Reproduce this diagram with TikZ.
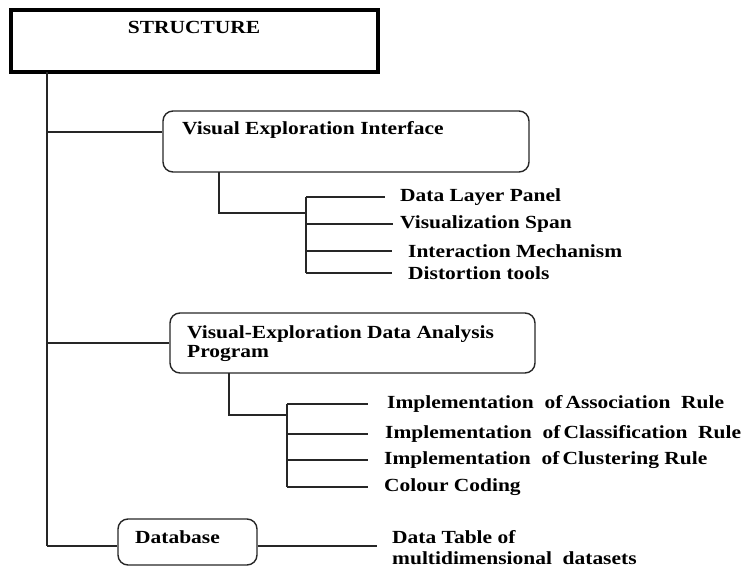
\documentclass[tikz,border=0pt]{standalone}
\usepackage{fontspec}
\setmainfont{Liberation Serif}
\newfontfamily\lbl{Liberation Serif}[FakeStretch=1.16]
\usetikzlibrary{calc}
\begin{document}
\begin{tikzpicture}[x=1pt,y=-1pt,
  txt/.style={anchor=west,inner sep=0pt,font=\lbl\bfseries\fontsize{18.5}{21.5}\selectfont,text=black},
  rbox/.style={draw=black!85,line width=1.4pt,rounded corners=10pt,inner sep=0pt},
  conn/.style={draw=black!85,line width=1.2pt}]
\useasboundingbox (0,0) rectangle (742,577);
% top box
\node[draw=black,line width=4pt,minimum width=367pt,minimum height=62pt,inner sep=0pt] (top) at (194.5,41) {};
\node[txt,anchor=center] (toptxt) at (194,27) {STRUCTURE};
% first level boxes
\node[rbox,minimum width=366pt,minimum height=61pt] (vei) at (346,141.5) {};
\node[txt] (veitxt) at (182,130) {Visual Exploration Interface};
\node[rbox,minimum width=365pt,minimum height=60pt] (veda) at (352.5,343) {};
\node[txt,align=left] (vedatxt) at (187,343.5) {Visual-Exploration Data Analysis\\[-2pt]Program};
\node[rbox,minimum width=139pt,minimum height=46pt] (db) at (187.5,542) {};
\node[txt] (dbtxt) at (135,537) {Database};
% trunk
\coordinate (trunkT) at (47,72);
\coordinate (trunkB) at (47,546);
\coordinate (veiJ) at (47,132);
\draw[conn] (trunkT) -- (trunkB);
\draw[conn] (veiJ) -- (veiJ -| vei.west);
\draw[conn] (trunkT |- veda.west) -- (veda.west);
\draw[conn] (trunkB) -- (trunkB -| db.west);
% VEI children
\node[txt] (a1) at (400,197) {Data Layer Panel};
\node[txt] (a2) at (400,224) {Visualization Span};
\node[txt] (a3) at (408,251) {Interaction Mechanism};
\node[txt] (a4) at (408,273) {Distortion tools};
\coordinate (veidown) at (219,172);
\coordinate (abus) at (306,213);
\draw[conn] (veidown) |- (abus);
\draw[conn] (abus |- a1) -- (abus |- a4);
\draw[conn] (abus |- a1) -- ([xshift=-15pt]a1.west);
\draw[conn] (abus |- a2) -- ([xshift=-7pt]a2.west);
\draw[conn] (abus |- a3) -- ([xshift=-16pt]a3.west);
\draw[conn] (abus |- a4) -- ([xshift=-16pt]a4.west);
% VEDA children
\node[txt] (b1) at (387,404) {Implementation\ \ of\,Association\ \ Rule};
\node[txt] (b2) at (385,434) {Implementation\ \ of\,Classification\ \ Rule};
\node[txt] (b3) at (384,460) {Implementation\ \ of\,Clustering Rule};
\node[txt] (b4) at (384,487) {Colour Coding};
\coordinate (vedadown) at (229,373);
\coordinate (bbus) at (287,415);
\draw[conn] (vedadown) |- (bbus);
\draw[conn] (bbus |- b1) -- (bbus |- b4);
\draw[conn] (bbus |- b1) -- ([xshift=-19pt]b1.west);
\draw[conn] (bbus |- b2) -- ([xshift=-17pt]b2.west);
\draw[conn] (bbus |- b3) -- ([xshift=-16pt]b3.west);
\draw[conn] (bbus |- b4) -- ([xshift=-16pt]b4.west);
% database child
\node[txt,align=left,anchor=north west] (c1) at (392,530) {Data Table of\\[0pt]multidimensional\ \ datasets};
\coordinate (cend) at (377,546);
\draw[conn] (trunkB -| db.east) -- (cend);
\end{tikzpicture}
\end{document}
